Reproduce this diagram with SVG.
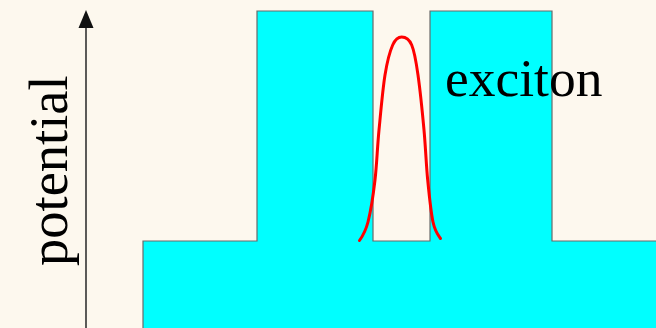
<svg xmlns="http://www.w3.org/2000/svg" width="656" height="328" viewBox="0 0 656 328">
<style>
.lbl{font-family:"Liberation Serif","Times New Roman",serif;fill:#000}
.wall{fill:#00ffff;stroke:#6a6a6a;stroke-width:1.2}
</style>
<rect width="656" height="328" fill="#fdf8ee"/>
<g id="potential-profile">
<path class="wall" d="M143,329 L143,241 L257,241 L257,11 L373,11 L373,241 L430,241 L430,11 L552,11 L552,241 L657,241 L657,329 Z"/>
</g>
<g id="exciton-wave">
<path fill="none" stroke="#ff0000" stroke-width="3" stroke-linecap="round" d="M359.5,240.5 C362,237 365.4,232.1 368,222 C370.6,211.9 373.2,195.3 375,180 C376.8,164.7 377.3,147.5 379,130 C380.7,112.5 382.7,89.2 385,75 C387.3,60.8 389.9,51.3 392.7,45 C395.5,38.7 398.5,37 401.7,37 C404.9,37 409,38.7 411.7,45 C414.4,51.3 416,60.8 418,75 C420,89.2 422.4,112.5 424,130 C425.6,147.5 426.2,164.7 427.7,180 C429.2,195.3 430.9,212.3 433,222 C435.1,231.75 438.2,235.3 440.5,238.5"/>
</g>
<g id="connectors">
<line x1="86" y1="328" x2="86" y2="28" stroke="#333" stroke-width="1.6"/>
<path d="M86,10 L93.5,28 L78.5,28 Z" fill="#111"/>
</g>
<g id="label-potential">
<text class="lbl" font-size="54.5" transform="translate(67,266) rotate(-90)">potential</text>
</g>
<g id="label-exciton">
<text class="lbl" font-size="53.5" x="445" y="96">exciton</text>
</g>
</svg>
